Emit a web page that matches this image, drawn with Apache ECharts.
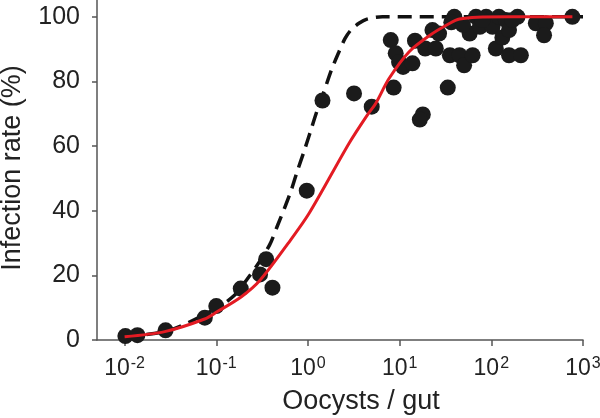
<!DOCTYPE html>
<html>
<head>
<meta charset="utf-8">
<script src="https://cdn.jsdelivr.net/npm/echarts@6/dist/echarts.min.js"></script>
<style>
html,body{margin:0;padding:0;background:#fff;}
#chart{width:600px;height:418px;}
</style>
</head>
<body>
<div id="chart"></div>
<script>
// Observed data: [oocysts per gut, infection rate %]
const observedPoints = [
  [0.0102,1.2],[0.0138,1.5],[0.028,3],[0.075,6.9],[0.1,10.5],[0.185,15.9],[0.30,20.3],[0.35,25],[0.41,16.2],
  [0.97,46.2],[1.44,74.1],[3.18,76.3],[4.96,72.2],[8.0,92.8],[9.06,88.7],[9.85,86],[10.9,84.5],[13.8,85.6],
  [8.6,78.1],[14.7,92.6],[19.0,90.2],[17.9,69.8],[16.6,68.2],[24.8,90.2],[26.9,94.8],[22.8,95.9],[33.5,78.1],
  [35.3,88.1],[45,88.1],[50.5,85],[62.5,88.1],[39.5,100],[36.6,98.3],[58,94.8],[68,100],[87.8,100],[75,96.9],
  [103,96.9],[121,100],[144,99],[193,100],[112,90.2],[132,93.6],[156,95.9],[156,88.1],[210,88.1],[306,98],
  [393,98],[376,94.3],[766,100],[49,97.5],[80,99],[170,99]
];
// Fitted curve (red, solid)
const fitCurve = [
  [0.01,1.0],[0.0274,2.6],[0.0747,6.5],[0.103,8.8],[0.188,13.4],[0.30,18.5],[0.607,29.9],[1.03,39.2],
  [2.8,60.8],[4.44,69.6],[5.48,73.2],[7.66,80.9],[12.7,89.2],[21.4,94.3],[35.3,98],[45,99.3],[70,99.9],
  [150,100],[766,100]
];
// Model curve (black, dashed)
const modelCurve = [
  [0.01,1.0],[0.03,2.9],[0.1,9.8],[0.159,13.9],[0.213,18.5],[0.285,23.5],[0.383,29.5],[0.467,35.5],
  [0.55,40.5],[0.66,46.5],[0.76,52],[0.91,58.5],[1.05,64],[1.26,71],[1.46,76],[1.80,83.5],[2.18,89.2],
  [2.54,93.3],[2.94,95.9],[3.6,98],[4.4,99.3],[6.5,100],[1000,100]
];
const xTicks = [0.01,0.1,1,10,100,1000];
const yTicks = [0,20,40,60,80,100];
const xTitle = 'Oocysts / gut';
const yTitle = 'Infection rate (%)';

const FONT = 'Liberation Sans, Arial, sans-serif';
const chart = echarts.init(document.getElementById('chart'), null, {renderer:'canvas'});
chart.setOption({
  animation:false,
  backgroundColor:'#fff',
  grid:{left:97,right:17,top:0,bottom:78,containLabel:false,outerBoundsMode:'none'},
  graphic:[
    {type:'text', x:361, y:402, silent:true,
     style:{text:xTitle, fill:'#222', font:'27px "Liberation Sans", Arial, sans-serif',
            textAlign:'center', textVerticalAlign:'middle', align:'center', verticalAlign:'middle'}},
    {type:'text', x:13, y:168, rotation:Math.PI/2, silent:true,
     style:{text:yTitle, fill:'#222', font:'27px "Liberation Sans", Arial, sans-serif',
            textAlign:'center', textVerticalAlign:'middle', align:'center', verticalAlign:'middle'}}
  ],
  xAxis:{
    type:'log', logBase:10, min:0.005, max:1000,
    axisLine:{show:true,onZero:false,lineStyle:{color:'#555',width:1.5}},
    axisTick:{show:true,inside:false,length:6,customValues:xTicks,lineStyle:{color:'#555',width:1.5}},
    splitLine:{show:false},
    minorTick:{show:false},
    axisLabel:{
      customValues:xTicks, margin:16, hideOverlap:false,
      formatter:function(v){
        const e = Math.round(Math.log10(v));
        return '{b|10}{s|' + (e<0?'-':'') + Math.abs(e) + '}';
      },
      rich:{
        b:{fontFamily:FONT,fontSize:23,color:'#222',lineHeight:24,verticalAlign:'bottom'},
        s:{fontFamily:FONT,fontSize:16,color:'#222',lineHeight:24,verticalAlign:'top',padding:[0,0,8,1]}
      }
    }
  },
  yAxis:{
    type:'value', min:0, max:105.2,
    axisLine:{show:true,onZero:false,lineStyle:{color:'#555',width:1.5}},
    axisTick:{show:true,inside:false,length:5,customValues:yTicks,lineStyle:{color:'#555',width:1.5}},
    splitLine:{show:false},
    axisLabel:{customValues:yTicks,margin:17,fontFamily:FONT,fontSize:25,color:'#222',hideOverlap:false}
  },
  series:[
    {
      type:'line', data:modelCurve, smooth:0.3, showSymbol:false, z:2,
      lineStyle:{color:'#111',width:3.5,type:[14,8]}
    },
    {
      type:'scatter', data:observedPoints, symbol:'circle', symbolSize:16, z:3,
      itemStyle:{color:'#1b1b1b',opacity:1}
    },
    {
      type:'line', data:fitCurve, smooth:0.3, showSymbol:false, z:4,
      lineStyle:{color:'#e31b23',width:3}
    }
  ]
});
</script>
</body>
</html>
